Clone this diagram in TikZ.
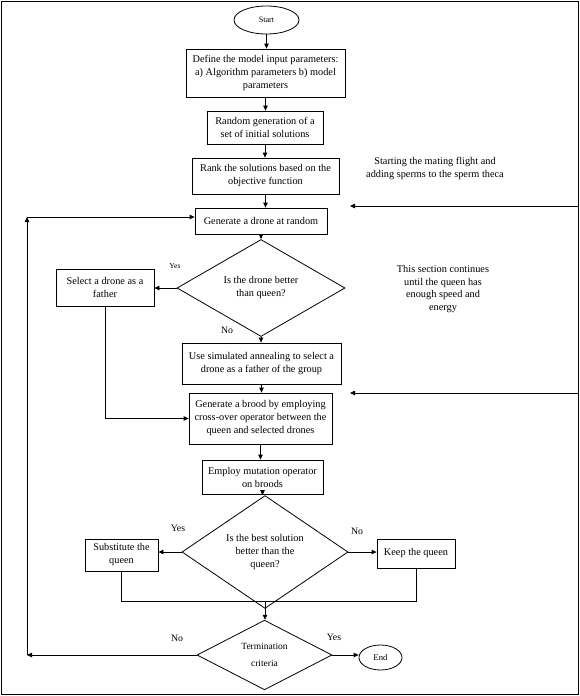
\documentclass[tikz,border=0pt]{standalone}
\usepackage{fontspec}
\setmainfont{Liberation Serif}
\usetikzlibrary{shapes.geometric,arrows.meta}
\begin{document}
\begin{tikzpicture}[x=1pt,y=-1pt,
  every node/.style={font=\fontsize{10.3}{13}\selectfont},
  box/.style={draw,line width=0.8pt,align=center,inner sep=0pt},
  dia/.style={draw,line width=0.8pt,diamond,align=center,inner sep=0pt},
  oval/.style={draw,line width=0.8pt,ellipse,inner sep=0pt},
  lbl/.style={font=\fontsize{9.8}{11}\selectfont},
  note/.style={align=center,font=\fontsize{10.3}{12.7}\selectfont},
  arr/.style={line width=0.8pt,-{Triangle[length=5pt,width=4.5pt]}},
  ln/.style={line width=0.8pt}]
\useasboundingbox (0,0) rectangle (580,696);
\draw[line width=1pt] (1,1) rectangle (578.5,694.5);

\node[oval,minimum width=65,minimum height=28,font=\fontsize{8.2}{9}\selectfont] (start) at (266.5,20) {Start};
\node[box,minimum width=159,minimum height=48] (b1) at (265.5,73) {Define the model input parameters:\\a) Algorithm parameters b) model\\parameters};
\node[box,minimum width=116,minimum height=33] (b2) at (265,127.5) {Random generation of a\\set of initial solutions};
\node[box,minimum width=147,minimum height=36] (b3) at (265.5,176) {Rank the solutions based on the\\objective function};
\node[box,minimum width=132,minimum height=26] (b4) at (261,221) {Generate a drone at random};
\node[dia,minimum width=168,minimum height=74] (d1) at (261,288) {Is the drone better\\than queen?};
\node[box,minimum width=98,minimum height=37] (sel) at (105,287.5) {Select a drone as a\\father};
\node[box,minimum width=159,minimum height=41] (b5) at (261.5,363.5) {Use simulated annealing to select a\\drone as a father of the group};
\node[box,minimum width=143,minimum height=51] (b6) at (260.5,418.5) {Generate a brood by employing\\cross-over operator between the\\queen and selected drones};
\node[box,minimum width=121,minimum height=34] (b7) at (262.5,477) {Employ mutation operator\\on broods};
\node[dia,minimum width=166,minimum height=88] (d2) at (265,552) {Is the best solution\\better than the\\queen?};
\node[box,minimum width=73,minimum height=32] (sub) at (121.5,555) {Substitute the\\queen};
\node[box,minimum width=78,minimum height=29] (keep) at (416,553.5) {Keep the queen};
\node[dia,minimum width=135,minimum height=69,font=\fontsize{9.5}{17}\selectfont] (d3) at (264.5,655) {Termination\\criteria};
\node[oval,minimum width=43,minimum height=25,font=\fontsize{8.7}{10}\selectfont] (endn) at (380.5,657.5) {End};

\node[note] (n1) at (435,168.5) {Starting the mating flight and\\adding sperms to the sperm theca};
\node[note] (n2) at (443,289) {This section continues\\until the queen has\\enough speed and\\energy};

\node[lbl,font=\fontsize{7.6}{8}\selectfont] (y1) at (175,266) {Yes};
\node[lbl] (no1) at (227,330) {No};
\node[lbl] (y2) at (178,528) {Yes};
\node[lbl] (no2) at (357,531) {No};
\node[lbl] (no3) at (177,638) {No};
\node[lbl] (y3) at (334,637) {Yes};

\coordinate (r1) at (578,206);
\coordinate (r1e) at (350,206);
\coordinate (r2) at (578,393);
\coordinate (r2e) at (350,393);
\coordinate (L1) at (27,655);
\coordinate (L2) at (27,217);
\coordinate (M) at (265,601);

\draw[arr] (start.south) -- (start.south |- b1.north);
\draw[arr] (b1.south) -- (b1.south |- b2.north);
\draw[arr] (b2.south) -- (b2.south |- b3.north);
\draw[arr] (b3.south) -- (b3.south |- b4.north);
\draw[arr] (b4.south) -- (b4.south |- d1.north);
\draw[arr] (d1.west) -- (d1.west -| sel.east);
\draw[arr] (d1.south) -- (d1.south |- b5.north);
\draw[arr] (b5.south) -- (b5.south |- b6.north);
\draw[arr] (sel.south) |- (b6.west);
\draw[arr] (b6.south) -- (b6.south |- b7.north);
\draw[arr] (b7.south) -- (b7.south |- d2.north);
\draw[arr] (d2.west) -- (d2.west -| sub.east);
\draw[arr] (d2.east) -- (d2.east -| keep.west);
\draw[ln] (sub.south) |- (M);
\draw[ln] (keep.south) |- (M);
\draw[arr] (M) -- (M |- d3.north);
\draw[arr] (d3.east) -- (d3.east -| endn.west);
\draw[arr] (d3.west) -- (L1);
\draw[arr] (L1) -- (L2);
\draw[arr] (L2) -- (L2 -| b4.west);
\draw[arr] (r1) -- (r1e);
\draw[arr] (r2) -- (r2e);
\end{tikzpicture}
\end{document}
